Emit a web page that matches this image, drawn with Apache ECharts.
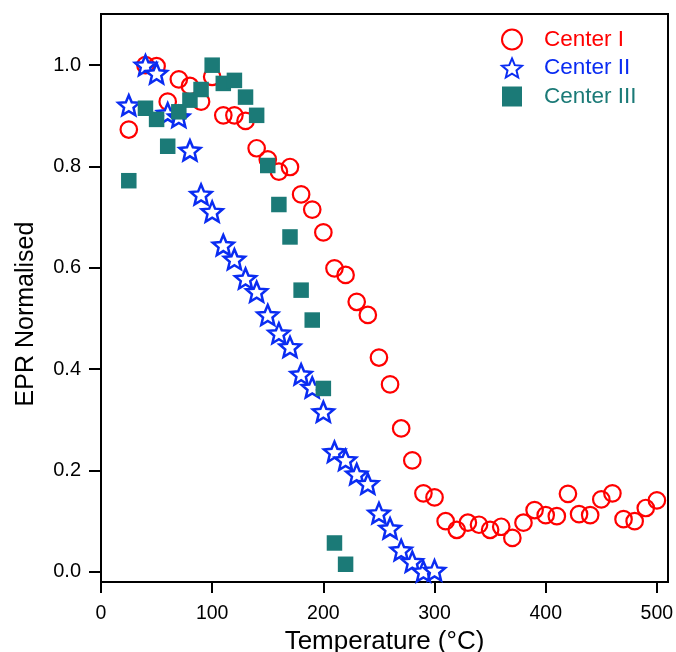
<!DOCTYPE html>
<html>
<head>
<meta charset="utf-8">
<title>EPR Normalised vs Temperature</title>
<script src="https://cdn.jsdelivr.net/npm/echarts@6/dist/echarts.min.js"></script>
<style>
  html, body { margin: 0; padding: 0; background: #ffffff; }
  #chart { width: 676px; height: 652px; }
</style>
</head>
<body>
<div id="chart"></div>
<script>
// Annealing temperatures (°C) for each centre
const tempCenterI = [25, 40, 50, 60, 70, 80, 90, 100, 110, 120, 130, 140, 150, 160, 170, 180, 190, 200,
  210, 220, 230, 240, 250, 260, 270, 280, 290, 300, 310, 320, 330, 340, 350, 360, 370, 380, 390,
  400, 410, 420, 430, 440, 450, 460, 470, 480, 490, 500];
const eprCenterI = [0.873, 1.000, 0.998, 0.928, 0.972, 0.959, 0.928, 0.977, 0.901, 0.901, 0.890, 0.836,
  0.814, 0.790, 0.799, 0.745, 0.715, 0.670, 0.599, 0.586, 0.533, 0.507, 0.423, 0.370, 0.283, 0.220,
  0.155, 0.147, 0.100, 0.083, 0.097, 0.093, 0.083, 0.089, 0.067, 0.097, 0.122, 0.112, 0.110, 0.154,
  0.114, 0.112, 0.143, 0.155, 0.104, 0.100, 0.126, 0.141];

const tempCenterII = [25, 40, 50, 60, 70, 80, 90, 100, 110, 120, 130, 140, 150, 160, 170, 180, 190,
  200, 210, 220, 230, 240, 250, 260, 270, 280, 290, 300];
const eprCenterII = [0.921, 1.000, 0.984, 0.905, 0.898, 0.832, 0.745, 0.711, 0.645, 0.617, 0.579, 0.553,
  0.507, 0.471, 0.444, 0.390, 0.364, 0.316, 0.237, 0.221, 0.193, 0.174, 0.116, 0.086, 0.043, 0.020,
  0.001, 0.003];

const tempCenterIII = [25, 40, 50, 60, 70, 80, 90, 100, 110, 120, 130, 140, 150, 160, 170, 180, 190,
  200, 210, 220];
const eprCenterIII = [0.772, 0.915, 0.893, 0.840, 0.908, 0.931, 0.952, 1.000, 0.964, 0.970, 0.937, 0.901,
  0.802, 0.725, 0.661, 0.556, 0.497, 0.362, 0.057, 0.015];

// Tick labels
const xTicks = [0, 100, 200, 300, 400, 500];
const yTicks = [0, 0.2, 0.4, 0.6, 0.8, 1.0];

const seriesNames = ['Center I', 'Center II', 'Center III'];
const colorI = '#ff0000';
const colorII = '#0a2cf2';
const colorIII = '#1b7a77';

// five-pointed star outline
const starPath = 'path://M0,-10 L2.645,-3.64 L9.51,-3.09 L4.28,1.39 L5.88,8.09 L0,4.5 L-5.88,8.09 L-4.28,1.39 L-9.51,-3.09 L-2.645,-3.64 Z';

const pairs = (xs, ys) => xs.map((x, i) => [x, ys[i]]);

const font = 'Arial, "Liberation Sans", Helvetica, sans-serif';

const chart = echarts.init(document.getElementById('chart'), null, { renderer: 'canvas' });

chart.setOption({
  animation: false,
  backgroundColor: '#ffffff',
  grid: {
    left: 101, top: 14, right: 8, bottom: 70,
    outerBoundsMode: 'none',
    containLabel: false,
    show: true, borderColor: '#000000', borderWidth: 2, backgroundColor: 'transparent'
  },
  legend: {
    orient: 'vertical',
    left: 496, top: 23,
    itemWidth: 20, itemHeight: 20, itemGap: 5.5,
    selectedMode: false,
    textStyle: { fontFamily: font, fontSize: 22.5, lineHeight: 20, padding: [0, 0, 0, 17] },
    data: [
      { name: seriesNames[0], textStyle: { color: colorI } },
      { name: seriesNames[1], textStyle: { color: colorII } },
      { name: seriesNames[2], textStyle: { color: colorIII } }
    ]
  },
  xAxis: {
    type: 'value',
    min: 0, max: 510,
    name: 'Temperature (°C)',
    nameLocation: 'middle',
    nameGap: 43,
    nameTextStyle: { fontFamily: font, fontSize: 26, color: '#000' },
    axisLine: { show: true, onZero: false, lineStyle: { color: '#000', width: 2 } },
    axisTick: { show: true, inside: false, length: 11, customValues: xTicks, lineStyle: { color: '#000', width: 2 } },
    axisLabel: { customValues: xTicks, margin: 22, fontFamily: font, fontSize: 19.5, color: '#000' },
    splitLine: { show: false }
  },
  yAxis: {
    type: 'value',
    min: -0.02, max: 1.101,
    name: 'EPR Normalised',
    nameLocation: 'middle',
    nameGap: 62.5,
    nameTextStyle: { fontFamily: font, fontSize: 25, color: '#000', padding: [0, 32, 0, 0] },
    axisLine: { show: true, onZero: false, lineStyle: { color: '#000', width: 2 } },
    axisTick: { show: true, inside: false, length: 12, customValues: yTicks, lineStyle: { color: '#000', width: 2 } },
    axisLabel: {
      customValues: yTicks, margin: 20, fontFamily: font, fontSize: 20, color: '#000',
      formatter: v => v.toFixed(1)
    },
    splitLine: { show: false }
  },
  series: [
    {
      name: seriesNames[0],
      type: 'scatter',
      symbol: 'circle',
      symbolSize: 16.5,
      itemStyle: { color: 'rgba(255,255,255,0)', borderColor: colorI, borderWidth: 2.2, opacity: 1 },
      data: pairs(tempCenterI, eprCenterI),
      z: 2
    },
    {
      name: seriesNames[1],
      type: 'scatter',
      symbol: starPath,
      symbolKeepAspect: true,
      symbolSize: 21,
      itemStyle: { color: '#ffffff', borderColor: colorII, borderWidth: 2.5, opacity: 1 },
      data: pairs(tempCenterII, eprCenterII),
      z: 3
    },
    {
      name: seriesNames[2],
      type: 'scatter',
      symbol: 'rect',
      symbolSize: 15.5,
      itemStyle: { color: colorIII, borderWidth: 0, opacity: 1 },
      data: pairs(tempCenterIII, eprCenterIII),
      z: 4
    }
  ]
});
</script>
</body>
</html>
